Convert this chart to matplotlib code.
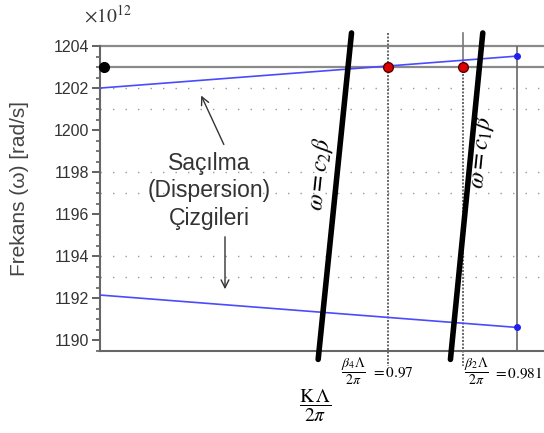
import matplotlib
matplotlib.use("Agg")
import matplotlib.pyplot as plt
import numpy as np

plt.rcParams['mathtext.fontset'] = 'stix'
plt.rcParams['font.family'] = ['Liberation Sans', 'DejaVu Sans']

# ---- data (x in units of beta*Lambda/2pi, y in 1e12 rad/s) ----
upper_disp_x = [0.92763, 0.98903]
upper_disp_y = [1202.0, 1203.52]
lower_disp_x = [0.92763, 0.98903]
lower_disp_y = [1192.16, 1190.62]
light1_x = [0.95974, 0.96465]   # omega = c2 beta
light1_y = [1189.1, 1204.62]
light2_x = [0.97921, 0.98397]   # omega = c1 beta
light2_y = [1189.1, 1204.62]
cross_x = [0.97, 0.981]
cross_y = [1203.0, 1203.0]
start_x = [0.92822]
start_y = [1203.0]
level_lines = [1204.0, 1203.0]
grid_y = [1202, 1201, 1198, 1197, 1194, 1193]
yticks = [1190, 1192, 1194, 1196, 1198, 1200, 1202, 1204]
beta4 = 0.97
beta2 = 0.981
edge_x = 0.98903

W, H = 544, 433
fig = plt.figure(figsize=(W/100, H/100), dpi=100)
ax = fig.add_axes([100/W, 1-351/H, 1-100/W + 0.01, (351-46)/H])
ax.set_xlim(0.92763, 0.92763 + 445/6727)
ax.set_ylim(1189.52, 1204.0)

def P(x, y):
    return (x / W, 1 - y / H)

# grid
for g in grid_y:
    ax.axhline(g, color='#999999', lw=1.0, ls=(0, (1, 8)), zorder=1)

# level lines
ax.plot([0.92763, 1.0], [level_lines[0]]*2, color='#8a8a8a', lw=1.6, clip_on=False, zorder=2)
ax.plot([0.92763, 1.0], [level_lines[1]]*2, color='#8a8a8a', lw=1.6, clip_on=False, zorder=2)

# verticals
ax.plot([beta4, beta4], [1204.62, 1188.8], color='#666666', lw=1.4, ls=(0, (1, 0.8)), clip_on=False, zorder=2)
ax.plot([beta2, beta2], [1203.0, 1188.8], color='#666666', lw=1.4, ls=(0, (1, 0.8)), clip_on=False, zorder=2)
ax.plot([beta2, beta2], [1204.62, 1203.0], color='#777777', lw=1.2, clip_on=False, zorder=2)
ax.plot([edge_x, edge_x], [1204.0, 1189.52], color='#666666', lw=1.2, zorder=2)

# dispersion lines
ax.plot(upper_disp_x, upper_disp_y, color='#4a4aff', lw=1.2, zorder=3)
ax.plot(lower_disp_x, lower_disp_y, color='#4a4aff', lw=1.2, zorder=3)
ax.plot([upper_disp_x[-1], lower_disp_x[-1]], [upper_disp_y[-1], lower_disp_y[-1]],
        'o', color='#2020ee', ms=4, zorder=4)

# light lines
ax.plot(light1_x, light1_y, color='black', lw=4, solid_capstyle='round', clip_on=False, zorder=5)
ax.plot(light2_x, light2_y, color='black', lw=4, solid_capstyle='round', clip_on=False, zorder=5)

# points
ax.plot(cross_x, cross_y, 'o', color='#dd0000', mec='#550000', ms=7, mew=1, zorder=6)
ax.plot(start_x, start_y, 'o', color='black', ms=7, zorder=6, clip_on=False)

# axes style
for s in ['top', 'right']:
    ax.spines[s].set_visible(False)
for s in ['left', 'bottom']:
    ax.spines[s].set_color('#666666')
    ax.spines[s].set_linewidth(1.5)
ax.set_xticks([])
ax.set_yticks(yticks)
ax.set_yticks(np.arange(1189.5, 1204.01, 0.5), minor=True)
ax.tick_params(axis='y', which='major', length=6, width=1.3, color='#555555',
               labelsize=11.5, labelcolor='#333333', pad=2)
ax.tick_params(axis='y', which='minor', length=3, width=1.1, color='#555555')

# texts
fig.text(*P(108, 15), r'$\times10^{12}$', fontsize=14, color='#333333', ha='center', va='center')
fig.text(*P(20, 188), 'Frekans (ω) [rad/s]', fontsize=15, color='#444444',
         rotation=90, ha='center', va='center')
fig.text(*P(209, 191), 'Saçılma\n(Dispersion)\nÇizgileri', fontsize=16.5, color='#333333',
         ha='center', va='center', linespacing=1.25)
ax.annotate('', xy=P(200, 93), xycoords='figure fraction', xytext=P(225, 147),
            textcoords='figure fraction',
            arrowprops=dict(arrowstyle='->', color='#333333', lw=1, mutation_scale=14))
ax.annotate('', xy=P(225, 292), xycoords='figure fraction', xytext=P(225, 234),
            textcoords='figure fraction',
            arrowprops=dict(arrowstyle='->', color='#333333', lw=1, mutation_scale=14))

fig.text(*P(320, 174), r'$\omega = c_2\beta$', fontsize=17, rotation=84, ha='center', va='center')
fig.text(*P(481, 152), r'$\omega = c_1\beta$', fontsize=17, rotation=84, ha='center', va='center')

fig.text(*P(315, 406), r'$\dfrac{\mathrm{K}\,\Lambda}{2\pi}$', fontsize=14, ha='center', va='center')
fig.text(*P(353, 371), r'$\dfrac{\beta_4\Lambda}{2\pi}$', fontsize=10, ha='center', va='center')
fig.text(*P(371, 373), r'$= 0.97$', fontsize=11, ha='left', va='center')
fig.text(*P(476, 371), r'$\dfrac{\beta_2\Lambda}{2\pi}$', fontsize=10, ha='center', va='center')
fig.text(*P(493, 373), r'$= 0.981$', fontsize=11, ha='left', va='center')

fig.savefig('out.png', dpi=100)
